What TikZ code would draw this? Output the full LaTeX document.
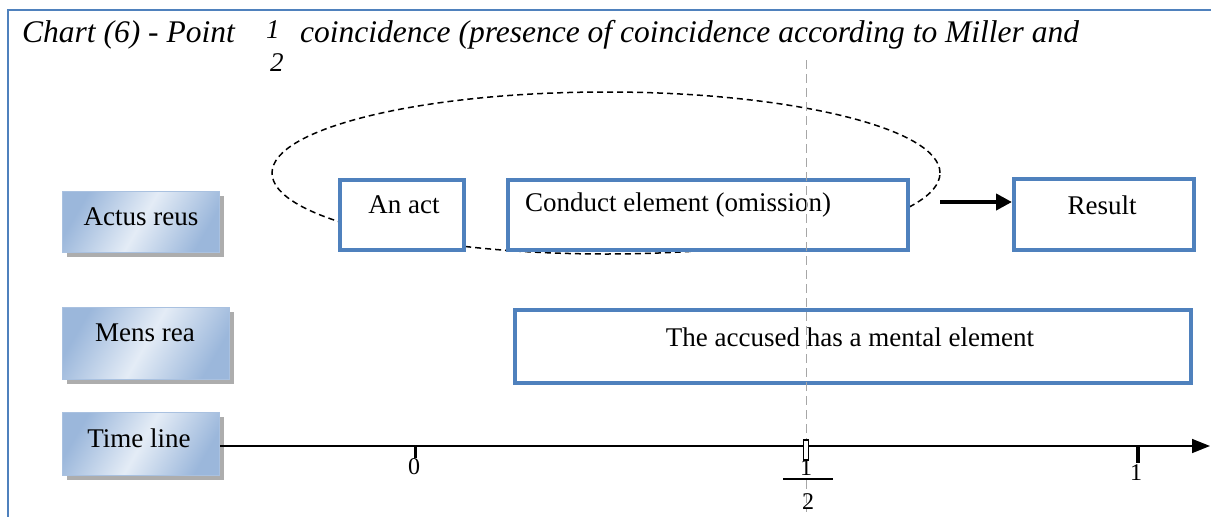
\documentclass[tikz,border=0pt]{standalone}
\usepackage{fontspec}
\setmainfont{Liberation Serif}
\usetikzlibrary{shadows,arrows.meta,shapes.geometric}
\definecolor{frameblue}{HTML}{4F81BD}
\definecolor{boxblue}{HTML}{4F81BD}
\definecolor{lblA}{HTML}{9BB7DB}
\definecolor{lblB}{HTML}{E4ECF6}
\definecolor{lblborder}{HTML}{A9C1E0}
\begin{document}
\begin{tikzpicture}[x=1pt,y=-1pt,
  lbl/.style={rectangle, draw=lblborder, line width=1pt, inner sep=0pt,
    top color=lblA, bottom color=lblA, middle color=lblB, shading angle=60,
    drop shadow={shadow xshift=4pt, shadow yshift=-4pt, fill=black!40, opacity=0.8}},
  bbox/.style={rectangle, draw=boxblue, line width=4pt, fill=white, inner sep=0pt},
  txt/.style={font=\fontsize{27}{29}\selectfont, inner sep=0pt},
  ttl/.style={font=\fontsize{31.5}{33}\selectfont\itshape, inner sep=0pt, anchor=base west},
  num/.style={font=\fontsize{24}{26}\selectfont, inner sep=0pt},
  tick/.style={line width=3pt, black}
]
\useasboundingbox (0,0) rectangle (1211,517);
% frame
\draw[frameblue, line width=2pt] (8,517) -- (8,10) -- (1212,10);
% title
\node[ttl] (t1) at (22,42) {Chart (6) - Point};
\node[ttl, font=\fontsize{27}{29}\selectfont\itshape] (tn) at (266,38) {1};
\node[ttl, font=\fontsize{27}{29}\selectfont\itshape] (td) at (270,71) {2};
\node[ttl] (t2) at (300,42) {coincidence (presence of coincidence according to Miller and};
% dashed ellipse
\node[draw, dash pattern=on 6pt off 4pt, line width=1.5pt, ellipse, minimum width=668pt, minimum height=162pt, inner sep=0pt] (ell) at (606,173) {};
% left labels
\node[lbl, minimum width=157pt, minimum height=61pt] (ar) at (141,222) {};
\node[txt] (art) at (141,217) {Actus reus};
\node[lbl, minimum width=167pt, minimum height=72pt] (mr) at (146,343.5) {};
\node[txt] (mrt) at (145,333) {Mens rea};
\node[lbl, minimum width=157pt, minimum height=63pt] (tl) at (141,444) {};
\node[txt] (tlt) at (139,438) {Time line};
% blue boxes
\node[bbox, minimum width=124pt, minimum height=70pt] (act) at (402,215) {};
\node[txt] (actt) at (404,205) {An act};
\node[bbox, minimum width=400pt, minimum height=70pt] (cond) at (708,215) {};
\node[txt, anchor=west] (condt) at (525,205) {Conduct element (omission)};
\node[bbox, minimum width=180pt, minimum height=71pt] (res) at (1104,214.5) {};
\node[txt] (rest) at (1102,205) {Result};
\node[bbox, minimum width=676pt, minimum height=73pt] (ment) at (853,346.5) {};
\node[txt] (mentt) at (850,337) {The accused has a mental element};
% arrow
\coordinate (as) at (940,202);
\draw[line width=4pt, -{Triangle[length=16pt,width=16pt]}] (as) -- (as -| res.west);
% vertical dashed line
\coordinate (vtop) at (806,60);
\coordinate (vbot) at (806,512);
\draw[gray!70, line width=1pt, dash pattern=on 9pt off 5pt] (vtop) -- (vbot);
% time axis
\coordinate (axend) at (1210,446);
\draw[line width=1.5pt, -{Triangle[length=18pt,width=14pt]}] (tl.east |- axend) -- (axend);
\draw[tick] (415,446) -- (415,458);
\draw[black, line width=1.2pt, fill=white] (803.5,440) rectangle (808.5,460);
\draw[tick, line width=4pt] (1138,446) -- (1138,463);
\node[num] (n0) at (414,467) {0};
\node[num] (nh1) at (806,468) {1};
\draw[line width=1.5pt] (783,479) -- (833,479);
\node[num] (nh2) at (808,502) {2};
\node[num] (n1) at (1136,473) {1};
\end{tikzpicture}
\end{document}
